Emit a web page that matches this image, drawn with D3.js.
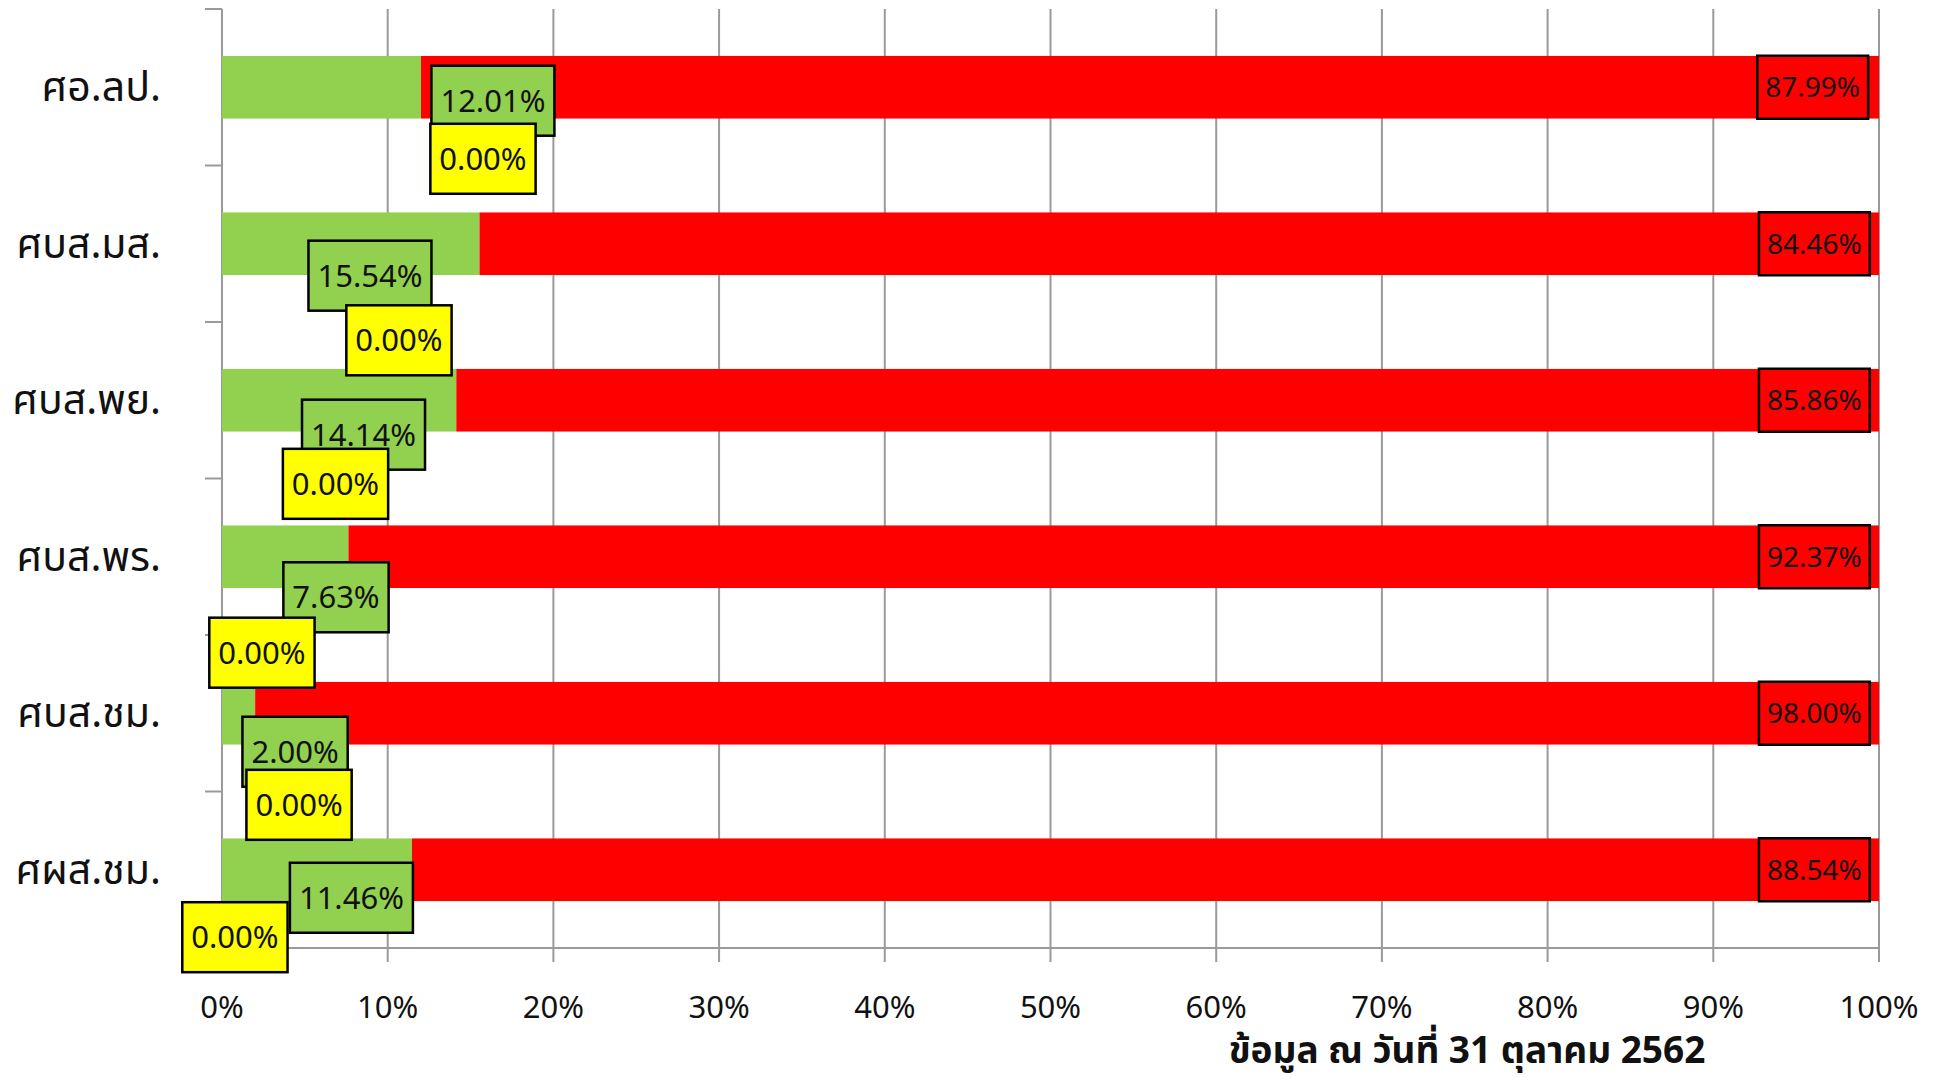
<!DOCTYPE html>
<html><head><meta charset="utf-8">
<script src="https://cdn.jsdelivr.net/npm/d3@7"></script>
<style>body{margin:0;background:#fff}svg{display:block}</style>
</head><body><svg id="c" width="1938" height="1083"></svg>
<script>
const categories = ["ศอ.ลป.", "ศบส.มส.", "ศบส.พย.", "ศบส.พร.", "ศบส.ชม.", "ศผส.ชม."];
const greenValues = [12.01, 15.54, 14.14, 7.63, 2.00, 11.46];
const yellowValues = [0.00, 0.00, 0.00, 0.00, 0.00, 0.00];
const redValues = [87.99, 84.46, 85.86, 92.37, 98.00, 88.54];
const xTicks = [0, 10, 20, 30, 40, 50, 60, 70, 80, 90, 100];
const footnote = "ข้อมูล ณ วันที่ 31 ตุลาคม 2562";
// manually placed label anchors (percent along x, fraction of band below centre)
const greenLabelAt = [[16.35, 0.086], [8.93, 0.204], [8.54, 0.22], [6.88, 0.259], [4.41, 0.246], [7.81, 0.179]];
const yellowLabelAt = [[15.75, 0.457], [10.68, 0.617], [6.85, 0.534], [2.41, 0.613], [4.65, 0.585], [0.78, 0.431]];
const redLabelAt = [96.0, 96.1, 96.1, 96.1, 96.1, 96.1];

const keys = ["green", "yellow", "red"];
const colors = {green: "#92D050", yellow: "#FFFF00", red: "#FF0000"};
const rows = categories.map((c, i) => ({cat: c, green: greenValues[i], yellow: yellowValues[i], red: redValues[i]}));

const svg = d3.select("#c");
const L = 222, R = 1879, T = 9, B = 948;
const x = d3.scaleLinear().domain([0, 100]).range([L, R]);
const y = d3.scaleBand().domain(categories).range([T, B]).paddingInner(0.6).paddingOuter(0.3);
const yOuter = d3.scaleBand().domain(categories).range([T, B]);
const numFont = "'Liberation Sans Narrow', 'Noto Sans', sans-serif";
const thaiFont = "'Noto Sans Thai', 'Loma', 'Garuda', 'Tlwg Typo', 'Noto Sans', 'DejaVu Sans', sans-serif";

// gridlines
svg.append("g").selectAll("line").data(xTicks).join("line")
  .attr("x1", d => x(d)).attr("x2", d => x(d)).attr("y1", T).attr("y2", B + 14)
  .attr("stroke", "#9a9a9a").attr("stroke-width", 2);
// y axis
svg.append("line").attr("x1", L).attr("x2", L).attr("y1", T).attr("y2", B).attr("stroke", "#9a9a9a").attr("stroke-width", 2);
const yTickPos = categories.map(c => yOuter(c)).concat([B]);
svg.append("g").selectAll("line").data(yTickPos).join("line")
  .attr("x1", L - 17).attr("x2", L).attr("y1", d => d).attr("y2", d => d)
  .attr("stroke", "#9a9a9a").attr("stroke-width", 2);
// x axis
svg.append("line").attr("x1", L).attr("x2", R).attr("y1", B).attr("y2", B).attr("stroke", "#9a9a9a").attr("stroke-width", 2);

// bars
const stack = d3.stack().keys(keys)(rows);
svg.append("g").selectAll("g").data(stack).join("g")
  .attr("fill", d => colors[d.key])
  .selectAll("rect").data(d => d).join("rect")
  .attr("x", d => x(d[0])).attr("width", d => x(d[1]) - x(d[0]))
  .attr("y", d => y(d.data.cat)).attr("height", y.bandwidth());

// tick labels
svg.append("g").selectAll("text").data(xTicks).join("text")
  .attr("x", d => x(d)).attr("y", 1018).attr("text-anchor", "middle")
  .attr("font-family", numFont).attr("font-size", 31).attr("fill", "#111")
  .text(d => d + "%");

// category labels
svg.append("g").selectAll("text").data(categories).join("text")
  .attr("x", 161).attr("y", d => y(d) + y.bandwidth() / 2 + 14).attr("text-anchor", "end")
  .attr("font-family", thaiFont).attr("font-size", 41).attr("fill", "#111")
  .text(d => d);

// data labels
function label(cx, cy, txt, fill, fs, padX, h) {
  const g = svg.append("g");
  const r = g.append("rect").attr("fill", fill).attr("stroke", "#000").attr("stroke-width", 2.5);
  const t = g.append("text").attr("x", cx).attr("y", cy + fs * 0.36).attr("text-anchor", "middle")
    .attr("font-family", numFont).attr("font-size", fs).attr("fill", "#111").text(txt);
  const w = t.node().getComputedTextLength() + 2 * padX;
  r.attr("x", cx - w / 2).attr("y", cy - h / 2).attr("width", w).attr("height", h);
}
rows.forEach((d, i) => {
  const cy = y(d.cat) + y.bandwidth() / 2;
  label(x(redLabelAt[i]), cy, d.red.toFixed(2) + "%", colors.red, 28, 8, 63);
});
rows.forEach((d, i) => {
  const cy = y(d.cat) + y.bandwidth() / 2;
  label(x(greenLabelAt[i][0]), cy + greenLabelAt[i][1] * yOuter.bandwidth(), d.green.toFixed(2) + "%", colors.green, 31, 9, 70);
  label(x(yellowLabelAt[i][0]), cy + yellowLabelAt[i][1] * yOuter.bandwidth(), d.yellow.toFixed(2) + "%", colors.yellow, 31, 9, 70);
});

// footnote
svg.append("text").attr("x", 1467).attr("y", 1063).attr("text-anchor", "middle")
  .attr("font-family", thaiFont).attr("font-size", 37).attr("font-weight", "bold").attr("fill", "#111")
  .text(footnote);
</script></body></html>
